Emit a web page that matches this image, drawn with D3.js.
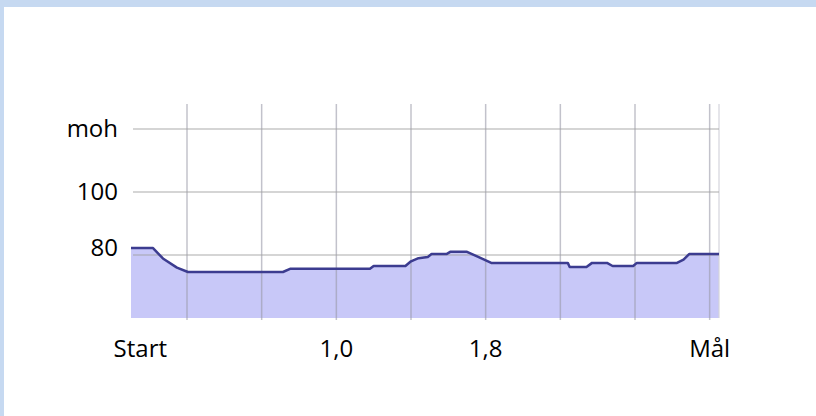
<!DOCTYPE html>
<html>
<head>
<meta charset="utf-8">
<script src="https://cdn.jsdelivr.net/npm/d3@7"></script>
<style>
  body { margin: 0; background: #fff; }
  svg { display: block; font-family: "Open Sans", sans-serif; }
</style>
</head>
<body>
<svg id="profil"></svg>
<script>
// ------------------------------ DATA ------------------------------
// distance along the route (km) and height above sea level (moh)
var distance = [0, 0.118, 0.171, 0.246, 0.305, 0.814, 0.852, 1.28, 1.30, 1.47, 1.50, 1.54, 1.59, 1.61,
                1.69, 1.71, 1.80, 1.86, 1.93, 2.34, 2.35, 2.44, 2.47, 2.55, 2.58, 2.69, 2.71, 2.925,
                2.96, 2.99, 3.15];
var height =   [82.2, 82.2, 78.9, 76.0, 74.6, 74.6, 75.6, 75.6, 76.5, 76.5, 78.0, 79.0, 79.4, 80.3,
                80.3, 81.0, 81.0, 79.4, 77.5, 77.5, 76.2, 76.2, 77.5, 77.5, 76.5, 76.5, 77.5, 77.5,
                78.5, 80.3, 80.3];

// vertical grid lines (km) and horizontal grid lines (moh)
var gridKm = [0.3, 0.7, 1.1, 1.5, 1.9, 2.3, 2.7, 3.1];
var gridM = [80, 100, 120];

// axis text
var xLabels = ["Start", "1,0", "1,8", "Mål"];
var xLabelKm = [0.05, 1.1, 1.9, 3.1];
var yLabels = ["moh", "100", "80"];
var yLabelM = [120, 100, 82.5];

var svgWidth = 816, svgHeight = 416;

var svg = d3.select('#profil')
    .attr("width", svgWidth)
    .attr("height", svgHeight);

// light blue frame at the top and left
svg.append("rect").attr("x", 0).attr("y", 0).attr("width", svgWidth).attr("height", 7).attr("fill", "#c6d9f1");
svg.append("rect").attr("x", 0).attr("y", 0).attr("width", 4).attr("height", svgHeight).attr("fill", "#c6d9f1");

// scales
var x = d3.scaleLinear()
    .domain([0, 3.15])
    .range([131, 719]);

var y = d3.scaleLinear()
    .domain([60, 120])
    .range([318, 129]);

var points = distance.map(function(d, i) { return { km: d, m: height[i] }; });

// filled area under the profile
var area = d3.area()
    .x(function(d) { return x(d.km); })
    .y0(y(60))
    .y1(function(d) { return y(d.m); });

svg.append("path")
    .datum(points)
    .attr("fill", "#c8c8f8")
    .attr("d", area);

// grid on top of the fill so it shows through
svg.selectAll(".vgrid")
    .data(gridKm)
    .enter()
    .append("line")
    .attr("class", "vgrid")
    .attr("x1", function(d) { return x(d); })
    .attr("x2", function(d) { return x(d); })
    .attr("y1", 104)
    .attr("y2", y(60) + 2)
    .attr("stroke", "#9a9aa8")
    .attr("stroke-opacity", 0.6)
    .attr("stroke-width", 1.5);

// right edge of the plot
svg.append("line")
    .attr("x1", x(3.15)).attr("x2", x(3.15))
    .attr("y1", 104).attr("y2", y(60))
    .attr("stroke", "#d4d4dc")
    .attr("stroke-width", 1.2);

svg.selectAll(".hgrid")
    .data(gridM)
    .enter()
    .append("line")
    .attr("class", "hgrid")
    .attr("x1", 133)
    .attr("x2", x(3.15))
    .attr("y1", function(d) { return y(d); })
    .attr("y2", function(d) { return y(d); })
    .attr("stroke", "#a0a0a0")
    .attr("stroke-opacity", 0.6)
    .attr("stroke-width", 1.5);

// the profile line itself
var line = d3.line()
    .x(function(d) { return x(d.km); })
    .y(function(d) { return y(d.m); });

svg.append("path")
    .datum(points)
    .attr("fill", "none")
    .attr("stroke", "#3c3c90")
    .attr("stroke-width", 2.5)
    .attr("stroke-linejoin", "round")
    .attr("d", line);

// y labels
svg.selectAll(".ylab")
    .data(yLabels)
    .enter()
    .append("text")
    .attr("class", "ylab")
    .attr("x", 118)
    .attr("y", function(d, i) { return y(yLabelM[i]); })
    .attr("dy", "0.35em")
    .attr("text-anchor", "end")
    .attr("font-size", 24)
    .attr("fill", "#000")
    .text(function(d) { return d; });

// x labels
svg.selectAll(".xlab")
    .data(xLabels)
    .enter()
    .append("text")
    .attr("class", "xlab")
    .attr("x", function(d, i) { return x(xLabelKm[i]); })
    .attr("y", 357)
    .attr("text-anchor", "middle")
    .attr("font-size", 24)
    .attr("fill", "#000")
    .text(function(d) { return d; });
</script>
</body>
</html>
